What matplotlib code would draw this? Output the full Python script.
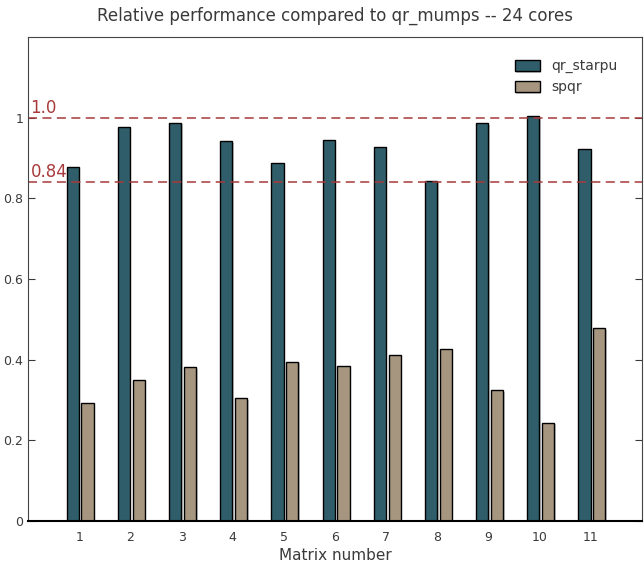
import numpy as np
import matplotlib
matplotlib.use('Agg')
import matplotlib.pyplot as plt
import matplotlib.patheffects as pe

# Relative performance data
matrices = [1, 2, 3, 4, 5, 6, 7, 8, 9, 10, 11]
qr_starpu = [0.877, 0.978, 0.988, 0.941, 0.888, 0.944, 0.927, 0.842, 0.986, 1.003, 0.922]
spqr = [0.293, 0.349, 0.381, 0.304, 0.394, 0.385, 0.411, 0.427, 0.324, 0.243, 0.478]
ref_lines = [1.0, 0.84]
ref_labels = ['1.0', '0.84']

plt.rcParams['font.family'] = ['DejaVu Sans']
text_col = '#3a3a3a'

fig = plt.figure(figsize=(6.44, 5.65), dpi=100)
ax = fig.add_axes([0.0435, 0.078, 0.9535, 0.8565])

x = np.array(matrices)
w = 0.24
shadow = [pe.SimplePatchShadow(offset=(1, -1), alpha=0.25), pe.Normal()]
b1 = ax.bar(x - 0.125, qr_starpu, w, color='#2f5e6a', edgecolor='black',
            linewidth=1.0, label='qr_starpu')
b2 = ax.bar(x + 0.165, spqr, w, color='#a69680', edgecolor='black',
            linewidth=1.0, label='spqr')
for p in list(b1) + list(b2):
    p.set_path_effects(shadow)

for y, lab in zip(ref_lines, ref_labels):
    ax.axhline(y, color='#a83a3a', linestyle='--', linewidth=1.3, alpha=0.85,
               dashes=(5, 3))
    ax.text(0.05, y + 0.002, lab, color='#a83a3a', fontsize=12, va='bottom')

ax.set_xlim(0, 12)
ax.set_ylim(0, 1.2)
ax.set_xticks(matrices)
ax.set_yticks([0, 0.2, 0.4, 0.6, 0.8, 1.0])
ax.set_yticklabels(['0', '0.2', '0.4', '0.6', '0.8', '1'])
ax.tick_params(axis='both', direction='in', length=5, labelsize=9,
               colors=text_col, right=True)
ax.tick_params(axis='x', length=0, pad=7)
for s in ['top', 'right', 'left']:
    ax.spines[s].set_color('#444444')
    ax.spines[s].set_linewidth(0.8)
ax.spines['bottom'].set_linewidth(1.5)

ax.set_xlabel('Matrix number', fontsize=11, color=text_col, labelpad=3)
ax.set_title('Relative performance compared to qr_mumps -- 24 cores',
             fontsize=12, color=text_col, pad=12)
leg = ax.legend(loc='upper right', frameon=False, fontsize=10,
                bbox_to_anchor=(0.98, 0.98), handlelength=1.8, handleheight=0.9)
for t in leg.get_texts():
    t.set_color(text_col)

fig.savefig('out.png', dpi=100)
